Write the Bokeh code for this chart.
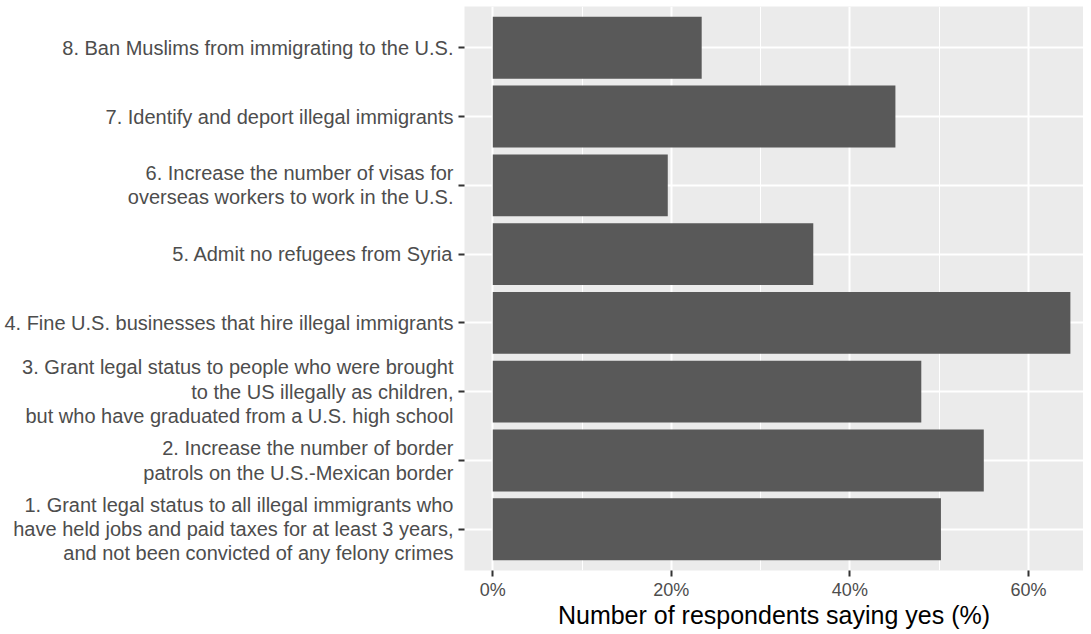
from bokeh.plotting import figure
from bokeh.models import FactorRange, Range1d, FixedTicker, PrintfTickFormatter
from bokeh.embed import file_html
from bokeh.resources import INLINE

# Data (bottom to top)
questions = [
    "1. Grant legal status to all illegal immigrants who\nhave held jobs and paid taxes for at least 3 years,\nand not been convicted of any felony crimes",
    "2. Increase the number of border\npatrols on the U.S.-Mexican border",
    "3. Grant legal status to people who were brought\nto the US illegally as children,\nbut who have graduated from a U.S. high school",
    "4. Fine U.S. businesses that hire illegal immigrants",
    "5. Admit no refugees from Syria",
    "6. Increase the number of visas for\noverseas workers to work in the U.S.",
    "7. Identify and deport illegal immigrants",
    "8. Ban Muslims from immigrating to the U.S.",
]
percent_yes = [50.2, 55.0, 48.0, 64.7, 35.9, 19.6, 45.1, 23.4]
x_ticks = [0, 20, 40, 60]
x_minor = [10, 30, 50]
x_title = "Number of respondents saying yes (%)"

FONT = "Liberation Sans"

p = figure(
    y_range=FactorRange(factors=questions, range_padding=0.025, range_padding_units="percent"),
    x_range=Range1d(-3.17, 66.17),
    frame_width=619, frame_height=564,
    min_border_left=464, min_border_right=0, min_border_top=6, min_border_bottom=52,
    output_backend="svg", toolbar_location=None,
)

p.hbar(y=questions, left=0, right=percent_yes, height=0.9, fill_color="#595959", line_color=None)

p.background_fill_color = "#ebebeb"
p.border_fill_color = "white"
p.outline_line_color = None

# grids
p.xgrid.ticker = FixedTicker(ticks=x_ticks, minor_ticks=x_minor)
p.xgrid.grid_line_color = "white"
p.xgrid.grid_line_width = 2
p.xgrid.minor_grid_line_color = "white"
p.xgrid.minor_grid_line_width = 1
p.ygrid.grid_line_color = "white"
p.ygrid.grid_line_width = 2

# x axis
xa = p.xaxis[0]
xa.ticker = FixedTicker(ticks=x_ticks, minor_ticks=x_minor)
xa.formatter = PrintfTickFormatter(format="%d%%")
xa.axis_line_color = None
xa.major_tick_line_color = "#333333"
xa.major_tick_line_width = 2
xa.major_tick_in = 0
xa.major_tick_out = 6
xa.minor_tick_line_color = None
xa.major_label_text_font = FONT
xa.major_label_text_font_size = "18px"
xa.major_label_text_color = "#4d4d4d"
xa.major_label_standoff = 3
xa.axis_label = x_title
xa.axis_label_text_font = FONT
xa.axis_label_text_font_size = "25px"
xa.axis_label_text_font_style = "normal"
xa.axis_label_text_color = "black"
xa.axis_label_standoff = -2

# y axis
ya = p.yaxis[0]
ya.axis_line_color = None
ya.major_tick_line_color = "#333333"
ya.major_tick_line_width = 2
ya.major_tick_in = 0
ya.major_tick_out = 6
ya.minor_tick_line_color = None
ya.major_label_text_font = FONT
ya.major_label_text_font_size = "20px"
ya.major_label_text_color = "#4d4d4d"
ya.major_label_text_line_height = 1.1
ya.major_label_standoff = 5

open("out.html", "w").write(file_html(p, INLINE))
